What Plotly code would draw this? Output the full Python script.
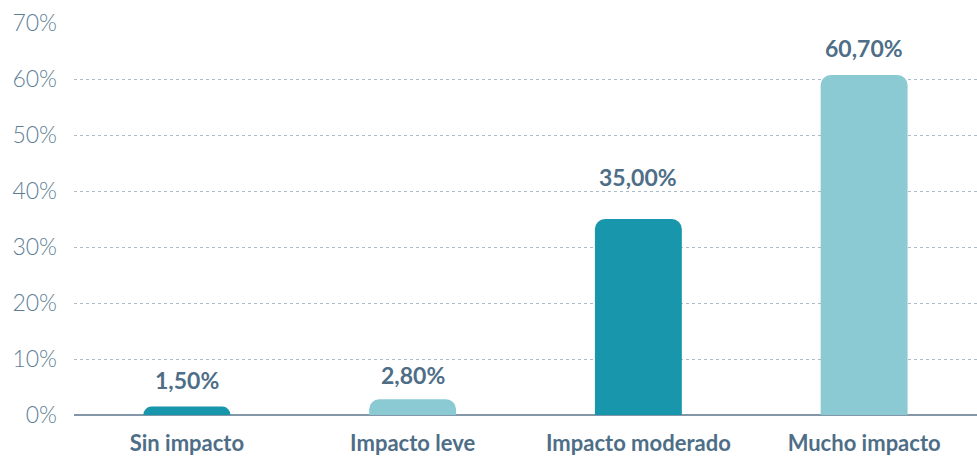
import plotly.graph_objects as go

# Survey results: perceived impact level
categories = ["Sin impacto", "Impacto leve", "Impacto moderado", "Mucho impacto"]
values = [1.50, 2.80, 35.00, 60.70]
y_ticks = [0, 10, 20, 30, 40, 50, 60, 70]

DARK = "#1896AB"
LIGHT = "#8CCAD3"
LABEL = "#4E6E87"
TICK = "#5F7F97"

bar_colors = [DARK, LIGHT, DARK, LIGHT]
label_shift = [27, 24, 42, 27]

def fmt(v):
    return f"{v:.2f}".replace(".", ",") + "%"

fig = go.Figure(
    go.Bar(
        x=categories,
        y=values,
        marker=dict(color=bar_colors, line=dict(width=0)),
        hoverinfo="skip",
    )
)

for cat, v, s in zip(categories, values, label_shift):
    fig.add_annotation(
        x=cat, y=v, text=fmt(v), showarrow=False,
        yshift=s, yanchor="middle",
        font=dict(family="Lato", size=23, color=LABEL, weight="bold"),
    )

fig.update_layout(
    width=977, height=458,
    margin=dict(l=74, r=0, t=23, b=43),
    paper_bgcolor="white", plot_bgcolor="white",
    bargap=0.615,
    barcornerradius=10,
    showlegend=False,
    xaxis=dict(
        showgrid=False, showline=False, ticks="",
        tickfont=dict(family="Lato", size=22, color=LABEL, weight="bold"),
        ticklabelstandoff=13,
    ),
    yaxis=dict(
        range=[0, 70], tickvals=y_ticks,
        ticktext=[f"{t}%" for t in y_ticks],
        showgrid=True, gridcolor="#A9BCC9", griddash="dot", gridwidth=1,
        zeroline=True, zerolinecolor="#8497A8", zerolinewidth=1.5,
        tickfont=dict(family="Lato", size=23, color=TICK, weight=300),
        ticklabelstandoff=16,
    ),
)

fig.write_html("out.html")
